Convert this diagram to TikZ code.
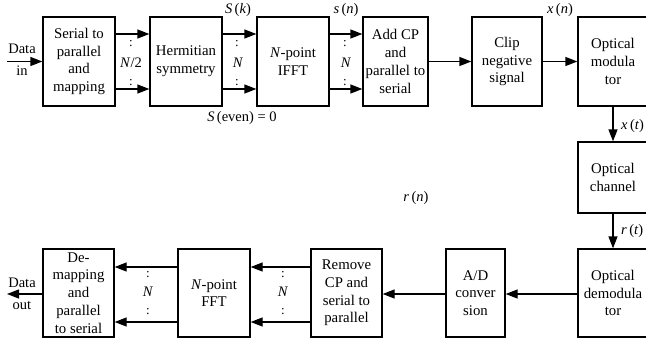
\documentclass[tikz,border=0pt]{standalone}
\usepackage{fontspec}
\setmainfont{Liberation Serif}
\usetikzlibrary{arrows.meta}
\begin{document}
\begin{tikzpicture}[x=1pt,y=-1pt,
  box/.style={draw,line width=1.3pt,minimum height=89pt,inner sep=0pt,align=center,font=\fontsize{14.8}{17.8}\selectfont},
  lbl/.style={inner sep=0pt,font=\fontsize{14.5}{16}\selectfont},
  arr/.style={line width=1.3pt,-{Triangle[length=12pt,width=9pt]}},
  cln/.style={inner sep=0pt,font=\fontsize{13}{13}\selectfont}]
\useasboundingbox (0,0) rectangle (646,340);
\begin{scope}
\clip (0,0) rectangle (646,340);
% top row
\node[box,minimum width=72pt] (sp) at (79,61.5) {Serial to\\parallel\\and\\mapping};
\node[box,minimum width=72pt] (hs) at (186,61.5) {Hermitian\\symmetry};
\node[box,minimum width=72pt] (ifft) at (293,61.5) {\textit{N}-point\\IFFT};
\node[box,minimum width=65pt] (acp) at (395.5,61.5) {Add CP\\and\\parallel to\\serial};
\node[box,minimum width=70pt] (clip) at (507,61.5) {Clip\\negative\\signal};
\node[box,minimum width=70pt] (mod) at (613,61.5) {Optical\\modula\\tor};
\node[box,minimum width=70pt,minimum height=71pt] (ch) at (613,177.5) {Optical\\channel};
% bottom row
\node[box,minimum width=70pt,minimum height=88pt] (dem) at (613,293) {Optical\\demodula\\tor};
\node[box,minimum width=59pt,minimum height=88pt] (ad) at (475.5,293) {A/D\\conver\\sion};
\node[box,minimum width=71pt,minimum height=88pt] (rcp) at (346.5,293) {Remove\\CP and\\serial to\\parallel};
\node[box,minimum width=72pt,minimum height=88pt] (fft) at (214,293) {\textit{N}-point\\FFT};
\node[box,minimum width=71pt,minimum height=88pt] (dm) at (78.5,293) {De-\\mapping\\and\\parallel\\to serial};
% free ends
\coordinate (din) at (7,61.5);
\coordinate (dout) at (7,294);
% arrows top
\draw[arr] (din) -- (sp.west);
\draw[arr] (sp.east|-0,34) -- (hs.west|-0,34);
\draw[arr] (sp.east|-0,89) -- (hs.west|-0,89);
\draw[arr] (hs.east|-0,34) -- (ifft.west|-0,34);
\draw[arr] (hs.east|-0,89) -- (ifft.west|-0,89);
\draw[arr] (ifft.east|-0,34) -- (acp.west|-0,34);
\draw[arr] (ifft.east|-0,89) -- (acp.west|-0,89);
\draw[arr] (acp.east) -- (clip.west);
\draw[arr] (clip.east) -- (mod.west);
\draw[arr] (mod.south) -- (ch.north);
\draw[arr] (ch.south) -- (dem.north);
% arrows bottom
\draw[arr] (dem.west|-0,294) -- (ad.east|-0,294);
\draw[arr] (ad.west|-0,294) -- (rcp.east|-0,294);
\draw[arr] (rcp.west|-0,267) -- (fft.east|-0,267);
\draw[arr] (rcp.west|-0,322) -- (fft.east|-0,322);
\draw[arr] (fft.west|-0,267) -- (dm.east|-0,267);
\draw[arr] (fft.west|-0,322) -- (dm.east|-0,322);
\draw[arr] (dm.west|-0,294) -- (dout);
% labels
\node[lbl] (ldin1) at (22,49) {Data};
\node[lbl] (ldin2) at (22,71) {in};
\node[lbl] (ldout1) at (22,283) {Data};
\node[lbl] (ldout2) at (22,305) {out};
\node[cln] (c1a) at (131,44) {:};
\node[lbl] (n1) at (131,63) {\textit{N}/2};
\node[cln] (c1b) at (131,83) {:};
\node[cln] (c2a) at (237,44) {:};
\node[lbl] (n2) at (238,63) {\textit{N}};
\node[cln] (c2b) at (237,83) {:};
\node[cln] (c3a) at (345,44) {:};
\node[lbl] (n3) at (346,63) {\textit{N}};
\node[cln] (c3b) at (345,83) {:};
\node[cln] (c4a) at (148,275) {:};
\node[lbl] (n4) at (148,292) {\textit{N}};
\node[cln] (c4b) at (148,312) {:};
\node[cln] (c5a) at (283,275) {:};
\node[lbl] (n5) at (283,292) {\textit{N}};
\node[cln] (c5b) at (283,312) {:};
\node[lbl] (lsk) at (238,10) {\textit{S}\,(\textit{k})};
\node[lbl] (lsn) at (346,10) {\textit{s}\,(\textit{n})};
\node[lbl] (lxn) at (560,10) {\textit{x}\,(\textit{n})};
\node[lbl,anchor=west] (lxt) at (621,126) {\textit{x}\,(\textit{t})};
\node[lbl,anchor=west] (lrt) at (621,231) {\textit{r}\,(\textit{t})};
\node[lbl] (lrn) at (416,198) {\textit{r}\,(\textit{n})};
\node[lbl] (lse) at (242,118) {\textit{S}\,(even) = 0};
\end{scope}
\end{tikzpicture}
\end{document}
